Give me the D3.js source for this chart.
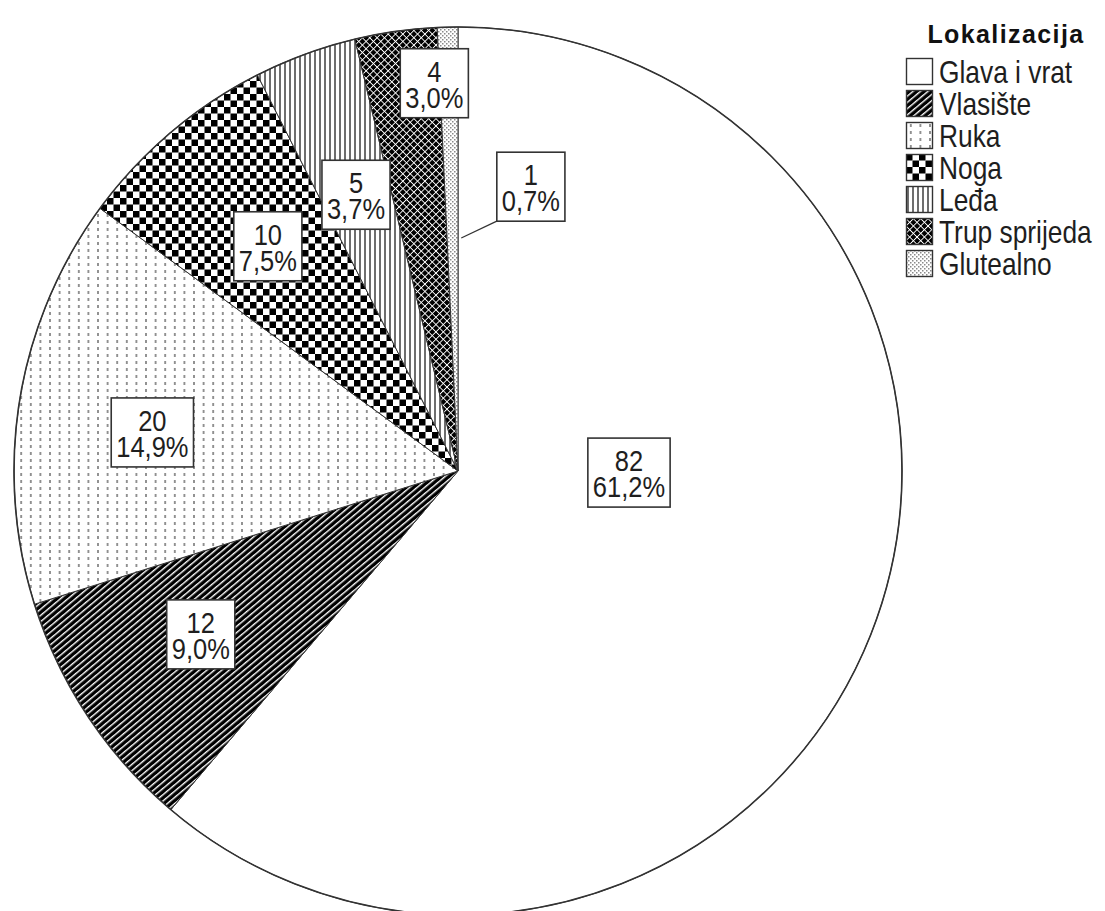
<!DOCTYPE html>
<html>
<head>
<meta charset="utf-8">
<script src="https://cdn.jsdelivr.net/npm/d3@7"></script>
<style>
  html, body { margin: 0; padding: 0; background: #fff; }
  svg { display: block; }
</style>
</head>
<body>
<div id="chart"></div>
<script>
// data
const categories = ["Glava i vrat", "Vlasište", "Ruka", "Noga", "Leđa", "Trup sprijeda", "Glutealno"];
const counts = [82, 12, 20, 10, 5, 4, 1];
const percentLabels = ["61,2%", "9,0%", "14,9%", "7,5%", "3,7%", "3,0%", "0,7%"];
const legendTitle = "Lokalizacija";

// layout
const width = 1105, height = 911;
const cx = 458, cy = 471, R = 444;
const fills = ["#fff", "url(#p-diag)", "url(#p-dots)", "url(#p-check)", "url(#p-vert)", "url(#p-cross)", "url(#p-fine)"];
// label positions in polar form [angle deg clockwise from top, radius]
const labelAt = [[90.7, 171], [237.5, 305], [277.1, 308], [319.7, 294], [339.7, 294], [356.5, 388], [14.4, 293]];
const leader = { index: 6, angle: 0.8, r: 233 };
const font = "'Liberation Sans', Arial, sans-serif";
const narrow = 0.85; // the original uses a condensed face

const svg = d3.select("#chart").append("svg")
  .attr("width", width).attr("height", height);

const defs = svg.append("defs");

// diagonal stripes: black with thin white lines
const pDiag = defs.append("pattern").attr("id", "p-diag")
  .attr("patternUnits", "userSpaceOnUse").attr("width", 4.8).attr("height", 10)
  .attr("patternTransform", "rotate(50)");
pDiag.append("rect").attr("width", 4.8).attr("height", 10).attr("fill", "#000");
pDiag.append("rect").attr("x", 0).attr("width", 1.4).attr("height", 10).attr("fill", "#fff");

// dotted vertical dashes
const pDots = defs.append("pattern").attr("id", "p-dots")
  .attr("patternUnits", "userSpaceOnUse").attr("width", 9.6).attr("height", 7);
pDots.append("rect").attr("width", 9.6).attr("height", 7).attr("fill", "#fff");
pDots.append("rect").attr("x", 4).attr("y", 2).attr("width", 1.6).attr("height", 3).attr("fill", "#7a7a7a");

// checkerboard
const pCheck = defs.append("pattern").attr("id", "p-check")
  .attr("patternUnits", "userSpaceOnUse").attr("width", 13).attr("height", 13);
pCheck.append("rect").attr("width", 13).attr("height", 13).attr("fill", "#fff");
pCheck.append("rect").attr("width", 6.5).attr("height", 6.5).attr("fill", "#000");
pCheck.append("rect").attr("x", 6.5).attr("y", 6.5).attr("width", 6.5).attr("height", 6.5).attr("fill", "#000");

// vertical gray stripes
const pVert = defs.append("pattern").attr("id", "p-vert")
  .attr("patternUnits", "userSpaceOnUse").attr("width", 5).attr("height", 10);
pVert.append("rect").attr("width", 5).attr("height", 10).attr("fill", "#fff");
pVert.append("rect").attr("x", 1).attr("width", 2).attr("height", 10).attr("fill", "#6e6e6e");

// black with white crosshatch (diamonds)
const pCross = defs.append("pattern").attr("id", "p-cross")
  .attr("patternUnits", "userSpaceOnUse").attr("width", 5.2).attr("height", 5.2)
  .attr("patternTransform", "rotate(45)");
pCross.append("rect").attr("width", 5.2).attr("height", 5.2).attr("fill", "#000");
pCross.append("rect").attr("width", 0.9).attr("height", 5.2).attr("fill", "#fff");
pCross.append("rect").attr("width", 5.2).attr("height", 0.9).attr("fill", "#fff");

// fine gray dots
const pFine = defs.append("pattern").attr("id", "p-fine")
  .attr("patternUnits", "userSpaceOnUse").attr("width", 4).attr("height", 4);
pFine.append("rect").attr("width", 4).attr("height", 4).attr("fill", "#fff");
pFine.append("rect").attr("x", 0).attr("y", 0).attr("width", 1.5).attr("height", 1.5).attr("fill", "#8a8a8a");
pFine.append("rect").attr("x", 2).attr("y", 2).attr("width", 1.5).attr("height", 1.5).attr("fill", "#8a8a8a");

// pie
const pie = d3.pie().value(d => d).sort(null);
const arcs = pie(counts);
const arc = d3.arc().innerRadius(0).outerRadius(R);

const g = svg.append("g").attr("transform", `translate(${cx},${cy})`);

g.selectAll("path.slice").data(arcs).join("path")
  .attr("class", "slice")
  .attr("d", arc)
  .attr("fill", (d, i) => fills[i])
  .attr("stroke", "#333")
  .attr("stroke-width", 1);

g.append("circle").attr("r", R).attr("fill", "none")
  .attr("stroke", "#333").attr("stroke-width", 1.6);

const polar = (deg, r) => {
  const a = deg * Math.PI / 180;
  return [Math.sin(a) * r, -Math.cos(a) * r];
};

// labels
const labels = g.selectAll("g.label").data(arcs).join("g")
  .attr("class", "label")
  .attr("transform", (d, i) => {
    const [x, y] = polar(labelAt[i][0], labelAt[i][1]);
    return `translate(${x},${y})`;
  });

labels.append("rect")
  .attr("fill", "#fff").attr("stroke", "#333").attr("stroke-width", 1.6);

const txt = labels.append("text")
  .attr("text-anchor", "middle")
  .attr("transform", `scale(${narrow},1)`)
  .attr("font-family", font)
  .attr("font-size", 30)
  .attr("fill", "#1e1e1e");
txt.append("tspan").attr("x", 0).attr("y", -2).text(d => d.value);
txt.append("tspan").attr("x", 0).attr("y", 24).text((d, i) => percentLabels[i]);

labels.each(function () {
  const t = d3.select(this).select("text").node();
  const w = t.getBBox().width * narrow + 10;
  d3.select(this).select("rect")
    .attr("x", -w / 2).attr("y", -35).attr("width", w).attr("height", 69);
});

// leader line for the smallest slice, from the slice to the label box corner
{
  const lab = labels.filter((d, i) => i === leader.index);
  const r = lab.select("rect");
  const [lx, ly] = polar(labelAt[leader.index][0], labelAt[leader.index][1]);
  const [ex, ey] = polar(leader.angle, leader.r);
  g.insert("line", "g.label")
    .attr("x1", ex).attr("y1", ey)
    .attr("x2", lx + (+r.attr("x"))).attr("y2", ly + (+r.attr("y")) + (+r.attr("height")))
    .attr("stroke", "#333").attr("stroke-width", 1.3);
}

// legend
const legend = svg.append("g").attr("transform", "translate(906,0)");
legend.append("text")
  .attr("x", 100).attr("y", 43)
  .attr("text-anchor", "middle")
  .attr("font-family", font)
  .attr("font-weight", "bold")
  .attr("font-size", 25)
  .attr("letter-spacing", 1.4)
  .attr("fill", "#111")
  .text(legendTitle);

const items = legend.selectAll("g.item").data(categories).join("g")
  .attr("class", "item")
  .attr("transform", (d, i) => `translate(0,${58 + i * 32})`);
items.append("rect")
  .attr("x", 0.5).attr("y", 0.5).attr("width", 26).attr("height", 26)
  .attr("fill", (d, i) => fills[i])
  .attr("stroke", "#333").attr("stroke-width", 1.4);
items.append("text")
  .attr("transform", `translate(33,25) scale(${narrow},1)`)
  .attr("font-family", font)
  .attr("font-size", 31)
  .attr("fill", "#1e1e1e")
  .text(d => d);
</script>
</body>
</html>
